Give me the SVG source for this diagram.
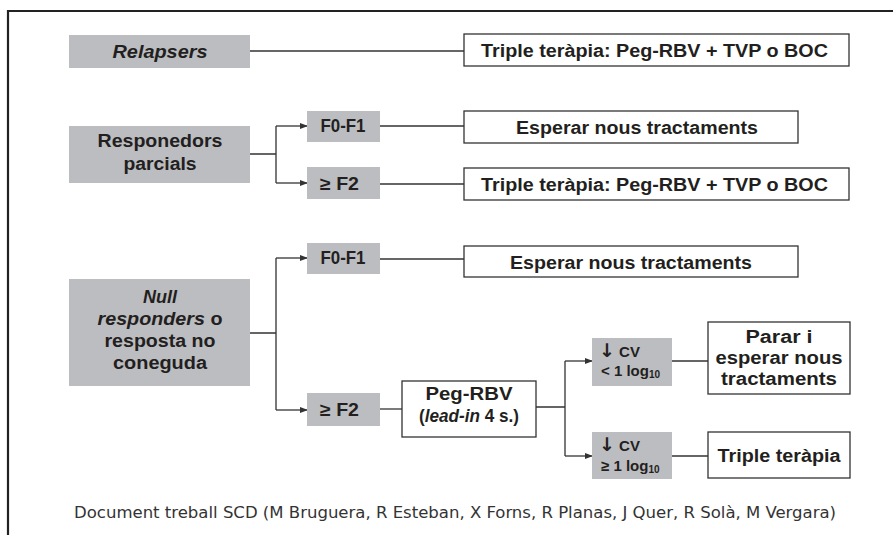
<svg xmlns="http://www.w3.org/2000/svg" width="893" height="535" viewBox="0 0 893 535">
<defs>
<marker id="arr" markerWidth="8" markerHeight="6" refX="7" refY="3" orient="auto" markerUnits="userSpaceOnUse">
<path d="M0,0 L8,3 L0,6 Z" fill="#333"/>
</marker>
<style>
.g{fill:#bcbdc0;stroke:none}
.w{fill:#fff;stroke:#333;stroke-width:1.3}
.t{font-family:"Liberation Sans",Arial,sans-serif;font-weight:bold;fill:#231f20;text-anchor:middle;font-size:18px}
.s{font-family:"Liberation Sans",Arial,sans-serif;font-weight:bold;fill:#231f20;font-size:15px}
.ar{font-family:"DejaVu Sans",sans-serif;font-weight:bold;font-size:19px}
.c{fill:none;stroke:#333;stroke-width:1.3}
.ca{fill:none;stroke:#333;stroke-width:1.3;marker-end:url(#arr)}
</style>
</defs>
<rect width="893" height="535" fill="#fff"/>
<path d="M8,535 V11 H893" fill="none" stroke="#222" stroke-width="2.2"/>

<g id="connectors">
<path class="c" d="M250,51 H464"/>
<path class="c" d="M250,154 H276 M276,126 V183"/>
<path class="ca" d="M276,126 H307"/>
<path class="ca" d="M276,183 H307"/>
<path class="c" d="M380,126 H464"/>
<path class="c" d="M380,184 H464"/>
<path class="c" d="M250,333 H276 M276,258 V410"/>
<path class="ca" d="M276,258 H307"/>
<path class="ca" d="M276,410 H307"/>
<path class="c" d="M380,259 H464"/>
<path class="c" d="M380,409 H402"/>
<path class="c" d="M536,407 H565 M565,361 V456"/>
<path class="ca" d="M565,361 H592"/>
<path class="ca" d="M565,456 H592"/>
<path class="c" d="M672,361 H708"/>
<path class="c" d="M672,456 H708"/>
</g>

<g id="relapsers">
<rect class="g" x="69" y="35" width="181" height="33"/>
<text class="t" x="160" y="58" font-style="italic" textLength="95" lengthAdjust="spacingAndGlyphs">Relapsers</text>
</g>
<g id="triple1">
<rect class="w" x="464" y="34" width="385" height="32"/>
<text class="t" x="654.5" y="57" textLength="347" lengthAdjust="spacingAndGlyphs">Triple teràpia: Peg-RBV + TVP o BOC</text>
</g>

<g id="responedors">
<rect class="g" x="69" y="126" width="181" height="57"/>
<text class="t" x="160" y="147" textLength="125" lengthAdjust="spacingAndGlyphs">Responedors</text>
<text class="t" x="160" y="170" textLength="73" lengthAdjust="spacingAndGlyphs">parcials</text>
</g>
<g id="r-f0f1">
<rect class="g" x="307" y="111" width="73" height="31"/>
<text class="t" x="343" y="132" font-size="16" textLength="45" lengthAdjust="spacingAndGlyphs">F0-F1</text>
</g>
<g id="r-f2">
<rect class="g" x="307" y="167" width="73" height="32"/>
<text class="t" x="339.5" y="190" font-size="17" textLength="39" lengthAdjust="spacingAndGlyphs">≥ F2</text>
</g>
<g id="esperar1">
<rect class="w" x="464" y="111" width="334" height="32"/>
<text class="t" x="637" y="134" textLength="242" lengthAdjust="spacingAndGlyphs">Esperar nous tractaments</text>
</g>
<g id="triple2">
<rect class="w" x="464" y="168" width="385" height="32"/>
<text class="t" x="654.5" y="191" textLength="347" lengthAdjust="spacingAndGlyphs">Triple teràpia: Peg-RBV + TVP o BOC</text>
</g>

<g id="null">
<rect class="g" x="69" y="279" width="181" height="107"/>
<text class="t" x="160" y="303" font-style="italic" textLength="34" lengthAdjust="spacingAndGlyphs">Null</text>
<text class="t" x="160" y="325" textLength="125" lengthAdjust="spacingAndGlyphs"><tspan font-style="italic">responders</tspan> o</text>
<text class="t" x="160" y="347" textLength="111" lengthAdjust="spacingAndGlyphs">resposta no</text>
<text class="t" x="160" y="369" textLength="94" lengthAdjust="spacingAndGlyphs">coneguda</text>
</g>
<g id="n-f0f1">
<rect class="g" x="307" y="243" width="73" height="31"/>
<text class="t" x="343" y="264" font-size="16" textLength="45" lengthAdjust="spacingAndGlyphs">F0-F1</text>
</g>
<g id="esperar2">
<rect class="w" x="464" y="246" width="334" height="31"/>
<text class="t" x="631" y="269" textLength="242" lengthAdjust="spacingAndGlyphs">Esperar nous tractaments</text>
</g>
<g id="n-f2">
<rect class="g" x="307" y="393" width="73" height="33"/>
<text class="t" x="339.5" y="416" font-size="17" textLength="39" lengthAdjust="spacingAndGlyphs">≥ F2</text>
</g>
<g id="pegrbv">
<rect class="w" x="402" y="381" width="134" height="56"/>
<text class="t" x="469" y="400" textLength="87" lengthAdjust="spacingAndGlyphs">Peg-RBV</text>
<text class="t" x="469" y="422" textLength="100" lengthAdjust="spacingAndGlyphs">(<tspan font-style="italic">lead-in</tspan> 4 s.)</text>
</g>
<g id="cv1">
<rect class="g" x="592" y="338" width="80" height="48"/>
<text class="s" x="599" y="357"><tspan class="ar">↓</tspan> CV</text>
<text class="s" x="601" y="376">&lt; 1 log<tspan font-size="10" dy="2">10</tspan></text>
</g>
<g id="cv2">
<rect class="g" x="592" y="432" width="80" height="47"/>
<text class="s" x="599" y="451"><tspan class="ar">↓</tspan> CV</text>
<text class="s" x="601" y="471">≥ 1 log<tspan font-size="10" dy="2">10</tspan></text>
</g>
<g id="parar">
<rect class="w" x="708" y="322" width="142" height="72"/>
<text class="t" x="779" y="343" textLength="67" lengthAdjust="spacingAndGlyphs">Parar i</text>
<text class="t" x="779" y="364" textLength="127" lengthAdjust="spacingAndGlyphs">esperar nous</text>
<text class="t" x="779" y="385" textLength="116" lengthAdjust="spacingAndGlyphs">tractaments</text>
</g>
<g id="triple3">
<rect class="w" x="708" y="432" width="142" height="46"/>
<text class="t" x="779" y="462" textLength="123" lengthAdjust="spacingAndGlyphs">Triple teràpia</text>
</g>

<text x="455" y="518" font-family="'DejaVu Sans Condensed','Liberation Sans',sans-serif" font-size="16" fill="#333" text-anchor="middle" textLength="762" lengthAdjust="spacingAndGlyphs">Document treball SCD (M Bruguera, R Esteban, X Forns, R Planas, J Quer, R Solà, M Vergara)</text>
</svg>
